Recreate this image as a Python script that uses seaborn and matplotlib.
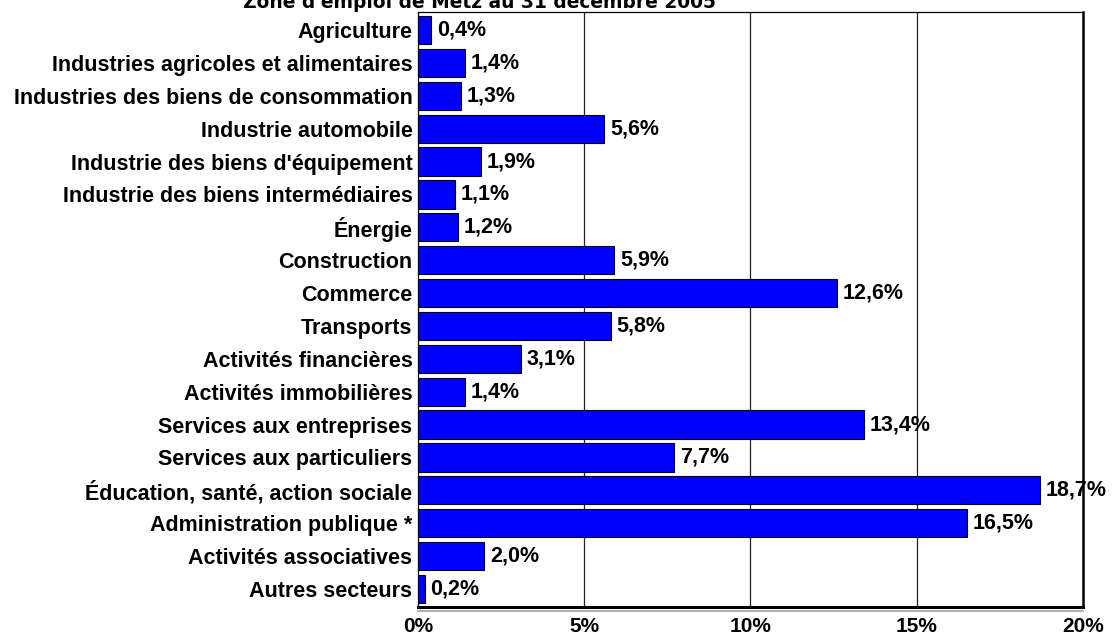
import matplotlib
matplotlib.use("Agg")
import matplotlib.pyplot as plt
import seaborn as sns
import pandas as pd

categories = [
    "Agriculture",
    "Industries agricoles et alimentaires",
    "Industries des biens de consommation",
    "Industrie automobile",
    "Industrie des biens d'équipement",
    "Industrie des biens intermédiaires",
    "Énergie",
    "Construction",
    "Commerce",
    "Transports",
    "Activités financières",
    "Activités immobilières",
    "Services aux entreprises",
    "Services aux particuliers",
    "Éducation, santé, action sociale",
    "Administration publique *",
    "Activités associatives",
    "Autres secteurs",
]
shares = [0.4, 1.4, 1.3, 5.6, 1.9, 1.1, 1.2, 5.9, 12.6, 5.8,
          3.1, 1.4, 13.4, 7.7, 18.7, 16.5, 2.0, 0.2]
x_ticks = [0, 5, 10, 15, 20]
title = "Zone d'emploi de Metz au 31 décembre 2005"

df = pd.DataFrame({"secteur": categories, "part": shares})

sns.set_theme(style="white")
plt.rcParams["font.family"] = ["Liberation Sans", "DejaVu Sans"]
plt.rcParams["text.color"] = "black"
plt.rcParams["xtick.color"] = "black"
plt.rcParams["ytick.color"] = "black"
plt.rcParams["axes.labelcolor"] = "black"

fig = plt.figure(figsize=(11.12, 6.37), dpi=100)
ax = fig.add_axes([0.3759, 0.0471, 0.598, 0.9341])

sns.barplot(data=df, y="secteur", x="part", orient="h", color="#0000FF",
            saturation=1, edgecolor="black", linewidth=0.8, width=0.86, ax=ax)

ax.set_xlim(0, 20)
ax.set_ylim(len(categories) - 0.45, -0.55)
ax.set_xticks(x_ticks)
ax.set_xticklabels([f"{t}%" for t in x_ticks], fontsize=15, fontweight="bold")
ax.tick_params(axis="x", length=0, pad=7)
ax.tick_params(axis="y", length=0, pad=4, labelsize=15.5)
for lbl in ax.get_yticklabels():
    lbl.set_fontweight("bold")
ax.set_xlabel("")
ax.set_ylabel("")

for t in x_ticks[1:-1]:
    ax.axvline(t, color="#222222", linewidth=0.9, zorder=0)

for i, v in enumerate(shares):
    ax.text(v + 0.17, i, f"{v:.1f}%".replace(".", ","), va="center", ha="left",
            fontsize=15.5, fontweight="bold", color="black")

for side in ["left", "top"]:
    ax.spines[side].set_color("black")
    ax.spines[side].set_linewidth(0.9)
ax.spines["right"].set_color("black")
ax.spines["right"].set_linewidth(1.8)
ax.spines["bottom"].set_color("black")
ax.spines["bottom"].set_linewidth(2.2)
ax.plot([0, 1], [-0.006, -0.006], transform=ax.transAxes, color="#b0b0b0",
        linewidth=1.5, clip_on=False)

fig.text(0.431, 0.987, title, ha="center", va="baseline", fontsize=13.4,
         fontweight="bold", family=["DejaVu Sans"])

fig.savefig("out.png", dpi=100)
